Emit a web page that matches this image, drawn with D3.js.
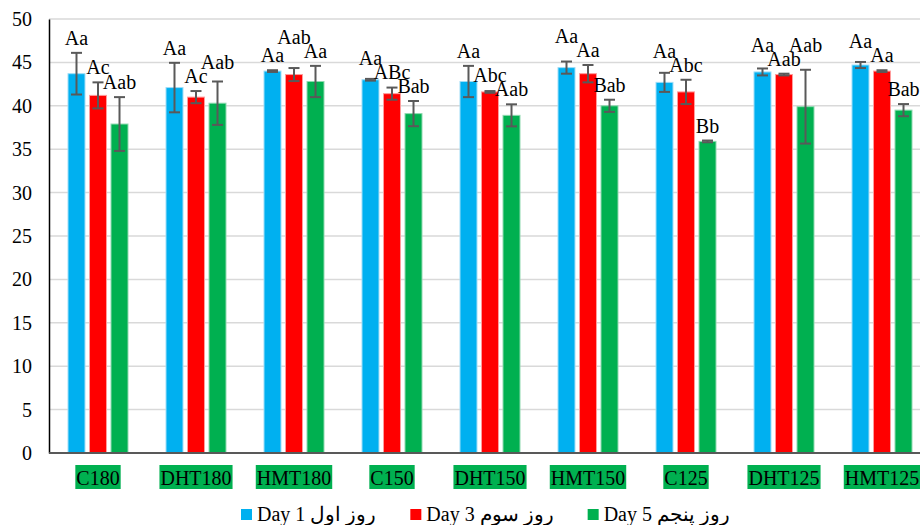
<!DOCTYPE html>
<html><head><meta charset="utf-8">
<script src="https://cdn.jsdelivr.net/npm/d3@7"></script>
<style>html,body{margin:0;padding:0;background:#fff;} svg{display:block;}</style>
</head><body>
<svg id="chart" width="920" height="525"></svg>
<script>
const categories = ["C180","DHT180","HMT180","C150","DHT150","HMT150","C125","DHT125","HMT125"];
const seriesNames = ["Day 1 روز اول","Day 3 روز سوم","Day 5 روز پنجم"];
const day1 = [43.7, 42.1, 44.0, 43.0, 42.8, 44.4, 42.7, 43.9, 44.7];
const day3 = [41.2, 41.0, 43.6, 41.4, 41.6, 43.7, 41.6, 43.6, 44.0];
const day5 = [37.9, 40.3, 42.8, 39.1, 38.9, 40.0, 35.9, 39.9, 39.5];
const err1 = [2.4, 2.85, 0.1, 0.1, 1.8, 0.7, 1.1, 0.4, 0.35];
const err3 = [1.5, 0.7, 0.75, 0.7, 0.1, 1.0, 1.4, 0.1, 0.1];
const err5 = [3.1, 2.5, 1.8, 1.45, 1.27, 0.7, 0.1, 4.25, 0.7];
const lab1 = ["Aa","Aa","Aa","Aa","Aa","Aa","Aa","Aa","Aa"];
const lab3 = ["Ac","Ac","Aab","ABc","Abc","Aa","Abc","Aab","Aa"];
const lab5 = ["Aab","Aab","Aa","Bab","Aab","Bab","Bb","Aab","Bab"];
const yTicks = [0,5,10,15,20,25,30,35,40,45,50];

(function(){
const colors = ["#00B0F0","#FF0000","#00B050"];
const strokes = ["#9FDDF7","#FF9C9C","#8FD9B0"];
const values = [day1, day3, day5];
const errs = [err1, err3, err5];
const labs = [lab1, lab3, lab5];
const FONT = "'Liberation Serif','Times New Roman',serif";

const svg = d3.select("#chart");
const mLeft = 49, mTop = 19, mBottom = 453, step = 98;
const x0 = d3.scaleBand().domain(categories).range([mLeft, mLeft + step*categories.length]).paddingInner(0).paddingOuter(0);
const bw = x0.bandwidth();
const x1 = d3.scaleBand().domain([0,1,2]).range([bw/2 - 30, bw/2 + 30]).paddingInner(0.21).paddingOuter(0);
const y = d3.scaleLinear().domain([0,50]).range([mBottom, mTop]);

// gridlines
svg.append("g").selectAll("line").data(yTicks.filter(d=>d>0)).join("line")
  .attr("x1", mLeft).attr("x2", 920).attr("y1", d=>y(d)).attr("y2", d=>y(d))
  .attr("stroke", "#D9D9D9").attr("stroke-width", 1.5);

// y axis
const yAxis = d3.axisLeft(y).tickValues(yTicks).tickSize(0).tickPadding(17);
const gy = svg.append("g").attr("transform", `translate(${mLeft},0)`).call(yAxis);
gy.select(".domain").attr("stroke", "#000").attr("stroke-width", 1.5);
gy.selectAll("text").attr("font-family", FONT).attr("font-size", 20).attr("fill", "#000");

// bars
const groups = svg.append("g").selectAll("g").data(categories).join("g")
  .attr("transform", d => `translate(${x0(d)},0)`);
groups.each(function(cat, ci){
  const g = d3.select(this);
  for (let s=0; s<3; s++){
    const v = values[s][ci];
    g.append("rect").attr("x", x1(s)).attr("width", x1.bandwidth())
      .attr("y", y(v)).attr("height", y(0)-y(v))
      .attr("fill", colors[s]).attr("stroke", strokes[s]).attr("stroke-width", 1);
  }
});

// x axis line
svg.append("line").attr("x1", mLeft).attr("x2", 920).attr("y1", mBottom).attr("y2", mBottom)
  .attr("stroke", "#595959").attr("stroke-width", 2);

// error bars
groups.each(function(cat, ci){
  const g = d3.select(this);
  for (let s=0; s<3; s++){
    const v = values[s][ci], e = errs[s][ci];
    const cx = x1(s) + x1.bandwidth()/2;
    const eg = g.append("g").attr("stroke", "#595959").attr("stroke-width", 2);
    eg.append("line").attr("x1", cx).attr("x2", cx).attr("y1", y(v+e)).attr("y2", y(v-e));
    eg.append("line").attr("x1", cx-5.5).attr("x2", cx+5.5).attr("y1", y(v+e)).attr("y2", y(v+e));
    eg.append("line").attr("x1", cx-5.5).attr("x2", cx+5.5).attr("y1", y(v-e)).attr("y2", y(v-e));
  }
});

// data labels with simple collision avoidance
groups.each(function(cat, ci){
  const g = d3.select(this);
  const items = [];
  for (let s=0; s<3; s++){
    const v = values[s][ci], e = errs[s][ci];
    const cx = x1(s) + x1.bandwidth()/2;
    const t = g.append("text").text(labs[s][ci]).attr("font-family", FONT).attr("font-size", 20)
      .attr("fill", "#000").attr("text-anchor", "middle").attr("x", cx);
    items.push({t, x: cx, y: y(v+e) - 8, w: t.node().getComputedTextLength()});
  }
  for (let it=0; it<5; it++){
    for (let i=0;i<3;i++) for (let j=i+1;j<3;j++){
      const a = items[i], b = items[j];
      if (Math.abs(a.x-b.x) < (a.w+b.w)/2 && Math.abs(a.y-b.y) < 14){
        if (a.y <= b.y) a.y = b.y - 14; else b.y = a.y - 14;
      }
    }
  }
  items.forEach(d => d.t.attr("y", d.y));
});

// category labels with green background
const cl = svg.append("g").selectAll("g").data(categories).join("g")
  .attr("transform", d => `translate(${x0(d)+bw/2},0)`);
cl.each(function(d){
  const g = d3.select(this);
  const r = g.append("rect").attr("fill", "#00B050");
  const t = g.append("text").text(d).attr("font-family", FONT).attr("font-size", 20)
    .attr("fill", "#000").attr("text-anchor", "middle").attr("y", 485);
  const w = t.node().getComputedTextLength();
  r.attr("x", -w/2 - 1).attr("width", w + 2).attr("y", 465).attr("height", 24);
});

// legend
const lg = svg.append("g");
let lx = 241;
seriesNames.forEach((n, i) => {
  lg.append("rect").attr("x", lx).attr("y", 509).attr("width", 11).attr("height", 11).attr("fill", colors[i]);
  const t = lg.append("text").text(n).attr("x", lx + 16).attr("y", 521)
    .attr("font-family", FONT).attr("font-size", 20).attr("fill", "#000");
  lx += 16 + t.node().getComputedTextLength() + 34;
});
})();
</script>
</body></html>
